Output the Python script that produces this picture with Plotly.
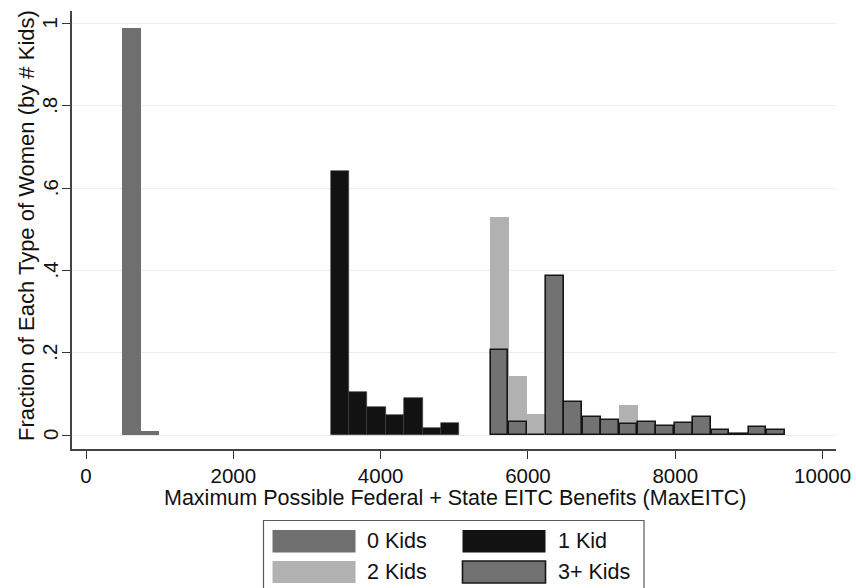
import plotly.graph_objects as go

# ---- data ----
bin_width = 250
kids0_edges = [490, 740]
kids0_vals = [0.990, 0.0105]

kids1_edges = [3320, 3570, 3820, 4070, 4320, 4570, 4820]
kids1_vals = [0.642, 0.104, 0.069, 0.049, 0.091, 0.016, 0.030]

kids2_edges = [5490, 5740, 5990, 7240]
kids2_vals = [0.530, 0.144, 0.050, 0.072]

kids3_edges = [5490, 5740, 5990, 6240, 6490, 6740, 6990, 7240, 7490, 7740,
               7990, 8240, 8490, 8740, 8990, 9240]
kids3_vals = [0.207, 0.032, 0.0, 0.386, 0.081, 0.043, 0.036, 0.027, 0.031,
              0.021, 0.028, 0.043, 0.011, 0.003, 0.020, 0.011]

x_ticks = [0, 2000, 4000, 6000, 8000, 10000]
x_ticklabels = ["0", "2000", "4000", "6000", "8000", "10000"]
y_ticks = [0, 0.2, 0.4, 0.6, 0.8, 1.0]
y_ticklabels = ["0", ".2", ".4", ".6", ".8", "1"]

legend_labels = ["0 Kids", "1 Kid", "2 Kids", "3+ Kids"]
x_title = "Maximum Possible Federal + State EITC Benefits (MaxEITC)"
y_title = "Fraction of Each Type of Women (by # Kids)"

FONT = "Liberation Sans, Arial, sans-serif"
TXT = "#111111"
C0 = "#6f6f6f"
C1 = "#121212"
C2 = "#b1b1b1"
C3 = "#727272"
C3_LINE = "#161616"


def centers(edges):
    return [e + bin_width / 2 for e in edges]


fig = go.Figure()
fig.add_trace(go.Bar(x=centers(kids0_edges), y=kids0_vals, width=bin_width,
                     marker=dict(color=C0, line=dict(width=0)), name=legend_labels[0]))
fig.add_trace(go.Bar(x=centers(kids1_edges), y=kids1_vals, width=bin_width,
                     marker=dict(color=C1, line=dict(color="#3a3a3a", width=0.6)), name=legend_labels[1]))
fig.add_trace(go.Bar(x=centers(kids2_edges), y=kids2_vals, width=bin_width,
                     marker=dict(color=C2, line=dict(width=0)), name=legend_labels[2]))
fig.add_trace(go.Bar(x=centers(kids3_edges), y=kids3_vals, width=bin_width * 0.96,
                     marker=dict(color=C3, line=dict(color=C3_LINE, width=1.6)), name=legend_labels[3]))

# plot area in pixels
W, H = 856, 588
L, R, T, B = 72, 20, 11, 139
PW = W - L - R
PH = H - T - B


def px(x):
    return (x - L) / PW


def py(y):
    return (H - B - y) / PH


shapes = []
annotations = []
# legend frame
shapes.append(dict(type="rect", xref="paper", yref="paper",
                   x0=px(263.5), x1=px(644), y0=py(520.5), y1=py(600),
                   line=dict(color="#5a5a5a", width=1.2), fillcolor="white", layer="above"))
sw = [
    (272.5, 355.5, 530, 552.5, C0, None),
    (462.5, 545.5, 530, 552.5, C1, None),
    (272.5, 355.5, 561, 583, C2, None),
    (462.5, 545.5, 561, 583, C3, C3_LINE),
]
text_x = [365, 556, 365, 556]
for (x0, x1, y0, y1, c, lc), tx, lab in zip(sw, text_x, legend_labels):
    shapes.append(dict(type="rect", xref="paper", yref="paper",
                       x0=px(x0), x1=px(x1), y0=py(y1), y1=py(y0),
                       fillcolor=c,
                       line=dict(color=lc if lc else c, width=1.6 if lc else 0),
                       layer="above"))
    annotations.append(dict(xref="paper", yref="paper", x=px(tx), y=py((y0 + y1) / 2),
                            text=lab, showarrow=False, xanchor="left", yanchor="middle",
                            font=dict(family=FONT, size=21.5, color=TXT)))

# rotated y tick labels, positioned on the y axis scale
for v, lab in zip(y_ticks, y_ticklabels):
    annotations.append(dict(xref="paper", yref="y", x=px(50), y=v, text=lab,
                            showarrow=False, xanchor="center", yanchor="middle",
                            textangle=-90, font=dict(family=FONT, size=20.5, color=TXT)))

# axis titles
annotations.append(dict(xref="paper", yref="paper", x=px(455.5), y=py(498),
                        text=x_title, showarrow=False, xanchor="center", yanchor="middle",
                        font=dict(family=FONT, size=21.5, color=TXT)))
annotations.append(dict(xref="paper", yref="paper", x=px(26), y=py(226),
                        text=y_title, showarrow=False, xanchor="center", yanchor="middle",
                        textangle=-90, font=dict(family=FONT, size=22, color=TXT)))

fig.update_layout(
    width=W, height=H,
    margin=dict(l=L, r=R, t=T, b=B, autoexpand=False),
    paper_bgcolor="white", plot_bgcolor="white",
    barmode="overlay", bargap=0,
    showlegend=False,
    font=dict(family=FONT, size=20, color=TXT),
    shapes=shapes, annotations=annotations,
    xaxis=dict(range=[-190, 10182], tickvals=x_ticks, ticktext=x_ticklabels,
               ticks="outside", ticklen=8, automargin=False,
               tickwidth=1.3, tickcolor="#333", showgrid=False, zeroline=False,
               showline=True, linecolor="#444", linewidth=1.5,
               tickfont=dict(family=FONT, size=20.5, color=TXT)),
    yaxis=dict(range=[-0.034, 1.0306], tickvals=y_ticks, showticklabels=False,
               ticks="outside", ticklen=8, tickwidth=1.3, tickcolor="#333",
               automargin=False,
               showgrid=True, gridcolor="#e6eef0", gridwidth=1.2, zeroline=False,
               showline=True, linecolor="#444", linewidth=1.5),
)

fig.write_html("out.html", config={"displayModeBar": False},
               post_script="document.body.style.margin='0px';document.body.style.overflow='hidden';")
